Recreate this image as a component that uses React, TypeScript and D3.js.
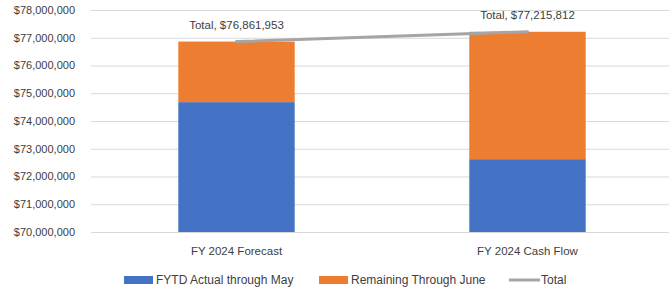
import * as d3 from "d3";
import React, { useEffect, useRef } from "react";

const categories = ["FY 2024 Forecast", "FY 2024 Cash Flow"];
const fytdActual = [74680000, 72625000];
const totals = [76861953, 77215812];
const remaining = totals.map((t, i) => t - fytdActual[i]);
const yTicks = [70000000, 71000000, 72000000, 73000000, 74000000, 75000000, 76000000, 77000000, 78000000];

const legendItems = [
  { label: "FYTD Actual through May", color: "#4472C4", type: "rect" },
  { label: "Remaining Through June", color: "#ED7D31", type: "rect" },
  { label: "Total", color: "#A5A5A5", type: "line" },
];

const width = 670;
const height = 291;
const font = "'Liberation Sans', Arial, sans-serif";

export default function App() {
  const svgRef = useRef<SVGSVGElement>(null);

  useEffect(() => {
    const svg = d3.select(svgRef.current);
    svg.selectAll("*").remove();

    const x = d3.scaleBand<string>().domain(categories).range([91, 673]).paddingInner(0.6).paddingOuter(0.3);
    const y = d3.scaleLinear().domain([70000000, 78000000]).range([232, 10]);
    const fmt = (v: number) => "$" + d3.format(",")(v);

    // gridlines
    svg
      .append("g")
      .selectAll("line")
      .data(yTicks)
      .join("line")
      .attr("x1", 91)
      .attr("x2", 669)
      .attr("y1", (d) => y(d) + 0.5)
      .attr("y2", (d) => y(d) + 0.5)
      .attr("stroke", "#D9D9D9")
      .attr("stroke-width", 1);

    // y tick labels
    svg
      .append("g")
      .selectAll("text")
      .data(yTicks)
      .join("text")
      .attr("x", 75)
      .attr("y", (d) => y(d))
      .attr("dy", "0.35em")
      .attr("text-anchor", "end")
      .attr("fill", "#404040")
      .style("font-family", font)
      .style("font-size", "11px")
      .text((d) => fmt(d));

    // stacked bars
    const bars = svg.append("g");
    categories.forEach((c, i) => {
      bars
        .append("rect")
        .attr("x", x(c)!)
        .attr("width", x.bandwidth())
        .attr("y", y(fytdActual[i]))
        .attr("height", y(70000000) - y(fytdActual[i]))
        .attr("fill", "#4472C4");
      bars
        .append("rect")
        .attr("x", x(c)!)
        .attr("width", x.bandwidth())
        .attr("y", y(fytdActual[i] + remaining[i]))
        .attr("height", y(fytdActual[i]) - y(fytdActual[i] + remaining[i]))
        .attr("fill", "#ED7D31");
    });

    // total line
    const line = d3
      .line<number>()
      .x((_, i) => x(categories[i])! + x.bandwidth() / 2)
      .y((d) => y(d));
    svg
      .append("path")
      .attr("d", line(totals))
      .attr("fill", "none")
      .attr("stroke", "#A5A5A5")
      .attr("stroke-width", 3)
      .attr("stroke-linecap", "round");

    // total labels
    svg
      .append("g")
      .selectAll("text")
      .data(totals)
      .join("text")
      .attr("x", (_, i) => x(categories[i])! + x.bandwidth() / 2)
      .attr("y", (d) => y(d) - 13)
      .attr("text-anchor", "middle")
      .attr("fill", "#404040")
      .style("font-family", font)
      .style("font-size", "11.5px")
      .text((d) => "Total, " + fmt(d));

    // category labels
    svg
      .append("g")
      .selectAll("text")
      .data(categories)
      .join("text")
      .attr("x", (d) => x(d)! + x.bandwidth() / 2)
      .attr("y", 251)
      .attr("dy", "0.35em")
      .attr("text-anchor", "middle")
      .attr("fill", "#404040")
      .style("font-family", font)
      .style("font-size", "11.5px")
      .text((d) => d);

    // legend
    const legendX = [124, 319, 509];
    const lg = svg.append("g");
    legendItems.forEach((item, i) => {
      const g = lg.append("g").attr("transform", `translate(${legendX[i]},280)`);
      if (item.type === "rect") {
        g.append("rect").attr("x", 0).attr("y", -4).attr("width", 29).attr("height", 8).attr("fill", item.color);
      } else {
        g.append("line").attr("x1", 0).attr("x2", 31).attr("y1", 0).attr("y2", 0).attr("stroke", item.color).attr("stroke-width", 3);
      }
      g.append("text")
        .attr("x", 32)
        .attr("y", 0)
        .attr("dy", "0.35em")
        .attr("fill", "#404040")
        .style("font-family", font)
        .style("font-size", "12px")
        .text(item.label);
    });
  }, []);

  return (
    <svg
      ref={svgRef}
      width={width}
      height={height}
      style={{ position: "absolute", left: 0, top: 0, background: "#fff" }}
    />
  );
}
